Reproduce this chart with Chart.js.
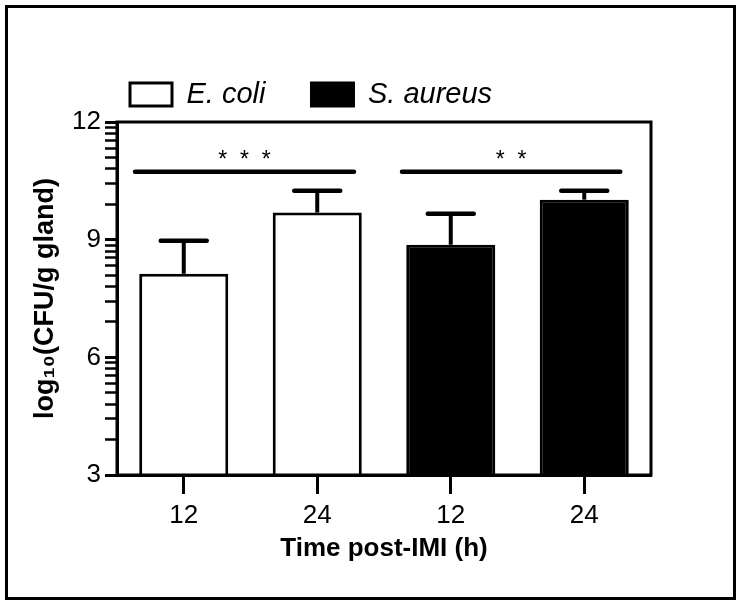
<!DOCTYPE html>
<html>
<head>
<meta charset="utf-8">
<script src="https://cdn.jsdelivr.net/npm/chart.js@4.4.1/dist/chart.umd.min.js"></script>
<style>
  html, body { margin: 0; padding: 0; background: #fff; }
  #wrap { position: relative; width: 743px; height: 607px; }
  #frame { position: absolute; left: 5px; top: 5px; width: 731px; height: 595px; border: 3px solid #000; box-sizing: border-box; }
  #myChart { position: absolute; left: 0; top: 0; }
</style>
</head>
<body>
<div id="wrap">
  <div id="frame"></div>
  <canvas id="myChart" width="743" height="607"></canvas>
</div>
<script>
const timeLabels = ['12', '24', '12', '24']
const ecoliMeans = [8.13, 9.69, null, null]
const ecoliSem = [0.84, 0.56, null, null]
const aureusMeans = [null, null, 8.87, 10.02]
const aureusSem = [null, null, 0.79, 0.23]
const yTicks = [3, 6, 9, 12]
// minor ticks: log spacing inside each major step
const minorSteps = [2, 3, 4, 5, 6, 7, 8, 9]

// significance bars (x in category index units)
const sigFrom = [-0.365, 1.635]
const sigTo = [1.275, 3.27]
const sigLevel = [10.73, 10.73]
const sigMarks = ['*  *  *', '*  *']

Chart.defaults.font.family = "'Liberation Sans', Arial, sans-serif"
Chart.defaults.color = '#000'

const prismStyle = {
  id: 'prismStyle',
  afterLayout(chart) {
    // legend sits over the left part of the plot, not at the canvas edge
    const lg = chart.legend
    lg.left += 74
    lg.right += 74
    lg.top -= 3
    lg.bottom -= 3
  },
  afterDatasetsDraw(chart) {
    const {ctx, chartArea: a, scales: {x, y}} = chart
    ctx.save()
    ctx.strokeStyle = '#000'
    ctx.fillStyle = '#000'

    // error bars (mean + SEM)
    const sems = [ecoliSem, aureusSem]
    const means = [ecoliMeans, aureusMeans]
    sems.forEach((sem, d) => {
      chart.getDatasetMeta(d).data.forEach((bar, i) => {
        if (means[d][i] == null) return
        const top = y.getPixelForValue(means[d][i] + sem[i])
        ctx.lineWidth = 4
        ctx.lineCap = 'butt'
        ctx.beginPath()
        ctx.moveTo(bar.x, bar.y)
        ctx.lineTo(bar.x, top)
        ctx.stroke()
        ctx.lineWidth = 4.5
        ctx.lineCap = 'round'
        ctx.beginPath()
        ctx.moveTo(bar.x - 23, top)
        ctx.lineTo(bar.x + 23, top)
        ctx.stroke()
      })
    })

    // significance lines and stars
    ctx.lineWidth = 4.5
    ctx.lineCap = 'round'
    ctx.font = "23px 'Liberation Sans', Arial, sans-serif"
    ctx.textAlign = 'center'
    ctx.textBaseline = 'alphabetic'
    sigFrom.forEach((from, i) => {
      const x1 = x.getPixelForValue(from)
      const x2 = x.getPixelForValue(sigTo[i])
      const py = y.getPixelForValue(sigLevel[i])
      ctx.beginPath()
      ctx.moveTo(x1, py)
      ctx.lineTo(x2, py)
      ctx.stroke()
      ctx.fillText(sigMarks[i], (x1 + x2) / 2, py - 5)
    })

    // box round the plot
    ctx.lineWidth = 3
    ctx.strokeRect(a.left, a.top, a.right - a.left, a.bottom - a.top)
    ctx.restore()
  }
}

new Chart(document.getElementById('myChart'), {
  type: 'bar',
  data: {
    labels: timeLabels,
    datasets: [
      {label: 'E. coli', data: ecoliMeans, backgroundColor: '#fff', borderColor: '#000', borderWidth: 3},
      {label: 'S. aureus', data: aureusMeans, backgroundColor: '#000', borderColor: '#000', borderWidth: 3}
    ]
  },
  options: {
    responsive: false,
    animation: false,
    layout: {padding: {left: 10, right: 92, top: 37, bottom: 7}},
    datasets: {bar: {grouped: false, barPercentage: 0.667, categoryPercentage: 1}},
    plugins: {
      legend: {
        position: 'top',
        align: 'start',
        labels: {
          font: {size: 29, style: 'italic'},
          boxWidth: 42,
          boxHeight: 23,
          padding: 46
        }
      },
      tooltip: {enabled: false}
    },
    scales: {
      x: {
        grid: {offset: false, drawOnChartArea: false, tickLength: 19, tickWidth: 3, tickColor: '#000'},
        border: {color: '#000', width: 3},
        ticks: {font: {size: 26}, padding: 6},
        title: {display: true, text: 'Time post-IMI (h)', font: {size: 26, weight: 'bold'}, padding: {top: 0, bottom: 36}},
        afterFit(scale) { scale.height = 125 }
      },
      y: {
        min: 3,
        max: 12,
        afterBuildTicks(scale) {
          const vals = [...yTicks]
          yTicks.slice(0, -1).forEach((lo, i) => {
            const step = yTicks[i + 1] - lo
            minorSteps.forEach(k => vals.push(lo + step * Math.log10(k)))
          })
          scale.ticks = vals.sort((p, q) => p - q).map(v => ({value: v}))
        },
        grid: {
          drawOnChartArea: false,
          tickLength: 12,
          tickWidth: c => yTicks.includes(c.tick.value) ? 3 : 2.5,
          tickColor: '#000'
        },
        border: {color: '#000', width: 3},
        ticks: {
          font: {size: 26},
          padding: 4,
          autoSkip: false,
          callback: v => yTicks.includes(v) ? String(v) : ''
        },
        title: {display: true, text: 'log₁₀(CFU/g gland)', font: {size: 27, weight: 'bold'}, padding: {top: 19, bottom: 0}},
        afterFit(scale) { scale.width = 107 }
      }
    }
  },
  plugins: [prismStyle]
})
</script>
</body>
</html>
